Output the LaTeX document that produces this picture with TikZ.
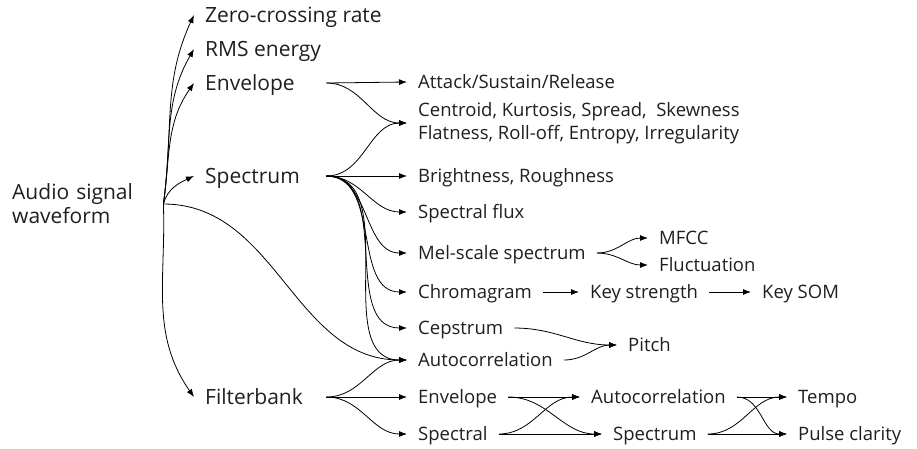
\documentclass[tikz,border=0pt]{standalone}
\usepackage{fontspec}
\setmainfont{Open Sans}
\usetikzlibrary{arrows.meta}
\begin{document}
\begin{tikzpicture}[x=1pt,y=-1pt,
  base/.style={anchor=west,inner xsep=11pt,inner ysep=0pt,text=black!88},
  feat/.style={base,font=\fontsize{18.5}{23}\selectfont,text height=13pt,text depth=0pt},
  featml/.style={base,font=\fontsize{18.5}{23}\selectfont,align=left},
  top/.style={base,font=\fontsize{21}{24}\selectfont,text height=15pt,text depth=0pt},
  hub/.style={top,text width=110pt,align=left},
  link/.style={line width=0.8pt,-{Latex[length=8pt,width=6pt]}},
  sw/.style={out=0,in=180}]
\useasboundingbox (0,0) rectangle (917,448);

% source signal
\node[base,font=\fontsize{21}{24}\selectfont,text width=140pt,align=left] (audio) at (1,204) {Audio signal\\waveform};

% first level
\node[top] (zcr) at (194,15) {Zero-crossing rate};
\node[top] (rms) at (194,49) {RMS energy};
\node[hub] (env) at (194,83) {Envelope};
\node[hub] (spec) at (194,176) {Spectrum};
\node[hub] (fb) at (194,397) {Filterbank};

% second level
\node[feat] (attack) at (407,82) {Attack/Sustain/Release};
\node[featml] (shape) at (407,123) {Centroid, Kurtosis, Spread,\ \ Skewness\\Flatness, Roll-off, Entropy, Irregularity};
\node[feat] (bright) at (407,176) {Brightness, Roughness};
\node[feat] (flux) at (407,212) {Spectral flux};
\node[feat] (mel) at (407,253) {Mel-scale spectrum};
\node[feat] (chroma) at (407,292) {Chromagram};
\node[feat] (ceps) at (407,328) {Cepstrum};
\node[feat] (acorr) at (407,360) {Autocorrelation};
\node[feat] (fenv) at (407,397) {Envelope};
\node[feat] (fspec) at (407,434) {Spectral};

% further levels
\node[feat] (mfcc) at (648,238) {MFCC};
\node[feat] (fluct) at (648,265) {Fluctuation};
\node[feat] (key) at (579,292) {Key strength};
\node[feat] (som) at (751,292) {Key SOM};
\node[feat] (pitch) at (617,345) {Pitch};
\node[feat] (acorr2) at (580,397) {Autocorrelation};
\node[feat] (spec2) at (602,434) {Spectrum};
\node[feat] (tempo) at (787,397) {Tempo};
\node[feat] (pulse) at (787,434) {Pulse clarity};

% from the waveform
\draw[link] (audio.east) to[out=82,in=245] (zcr.west);
\draw[link] (audio.east) to[out=82,in=240] (rms.west);
\draw[link] (audio.east) to[out=82,in=235] (env.west);
\draw[link] (audio.east) to[out=75,in=205] (spec.west);
\draw[link] (audio.east) to[out=-88,in=125] (fb.west);
\draw[link] (audio.east) to[sw] (acorr.west);

% envelope branch
\draw[link] (env.east) -- (attack.west);
\draw[link] (env.east) to[sw] (shape.west);

% spectrum branch
\draw[link] (spec.east) to[sw] (shape.west);
\draw[link] (spec.east) -- (bright.west);
\draw[link] (spec.east) to[sw] (flux.west);
\draw[link] (spec.east) to[sw] (mel.west);
\draw[link] (spec.east) to[sw] (chroma.west);
\draw[link] (spec.east) to[sw] (ceps.west);
\draw[link] (spec.east) to[sw] (acorr.west);

% filterbank branch
\draw[link] (fb.east) to[sw] (acorr.west);
\draw[link] (fb.east) -- (fenv.west);
\draw[link] (fb.east) to[sw] (fspec.west);

% mel, chroma, pitch
\draw[link] (mel.east) to[sw] (mfcc.west);
\draw[link] (mel.east) to[sw] (fluct.west);
\draw[link] (chroma.east) -- (key.west);
\draw[link] (key.east) -- (som.west);
\draw[link] (ceps.east) to[sw] (pitch.west);
\draw[link] (acorr.east) to[sw] (pitch.west);

% rhythm
\draw[link] (fenv.east) -- (acorr2.west);
\draw[link] (fenv.east) to[sw] (spec2.west);
\draw[link] (fspec.east) to[sw] (acorr2.west);
\draw[link] (fspec.east) -- (spec2.west);
\draw[link] (acorr2.east) -- (tempo.west);
\draw[link] (acorr2.east) to[sw] (pulse.west);
\draw[link] (spec2.east) to[sw] (tempo.west);
\draw[link] (spec2.east) -- (pulse.west);
\end{tikzpicture}
\end{document}
